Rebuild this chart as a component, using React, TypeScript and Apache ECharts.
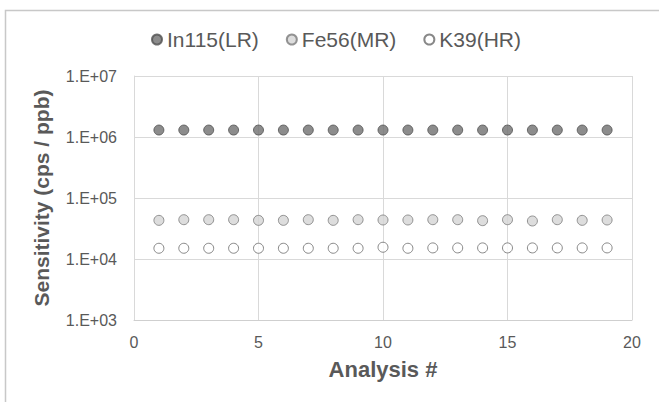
import React, { useEffect, useRef } from "react";
import * as echarts from "echarts";

const analysis = [1, 2, 3, 4, 5, 6, 7, 8, 9, 10, 11, 12, 13, 14, 15, 16, 17, 18, 19];
const in115 = [1.3e6, 1.3e6, 1.3e6, 1.3e6, 1.3e6, 1.3e6, 1.3e6, 1.3e6, 1.3e6, 1.3e6, 1.3e6, 1.3e6, 1.3e6, 1.3e6, 1.3e6, 1.3e6, 1.3e6, 1.3e6, 1.3e6];
const fe56 = [4.3e4, 4.41e4, 4.41e4, 4.41e4, 4.3e4, 4.3e4, 4.41e4, 4.3e4, 4.41e4, 4.36e4, 4.36e4, 4.41e4, 4.41e4, 4.25e4, 4.41e4, 4.2e4, 4.41e4, 4.3e4, 4.36e4];
const k39 = [1.5e4, 1.5e4, 1.5e4, 1.5e4, 1.5e4, 1.5e4, 1.5e4, 1.5e4, 1.5e4, 1.56e4, 1.5e4, 1.52e4, 1.52e4, 1.52e4, 1.52e4, 1.52e4, 1.52e4, 1.52e4, 1.52e4];
const seriesNames = ["In115(LR)", "Fe56(MR)", "K39(HR)"];

const FONT = "'Liberation Sans', Arial, sans-serif";
const TXT = "#595959";

export default function App() {
  const ref = useRef<HTMLDivElement>(null);
  useEffect(() => {
    const chart = echarts.init(ref.current!, null, { renderer: "svg" });
    const pts = (vals: number[]) => analysis.map((a, i) => [a, vals[i]]);
    const styles = [
      { color: "#6f6f6f", borderColor: "#4f4f4f", borderWidth: 1 },
      { color: "#d4d4d4", borderColor: "#7a7a7a", borderWidth: 1 },
      { color: "#ffffff", borderColor: "#6a6a6a", borderWidth: 1 },
    ];
    const datas = [in115, fe56, k39];
    chart.setOption({
      animation: false,
      textStyle: { fontFamily: FONT },
      graphic: [
        {
          type: "rect",
          shape: { x: 5.5, y: 10.5, width: 700, height: 450 },
          style: { fill: "none", stroke: "#c8c8c8", lineWidth: 1.5 },
          silent: true,
        },
      ],
      legend: {
        left: 151,
        top: 29,
        padding: 0,
        icon: "circle",
        itemWidth: 10,
        itemHeight: 10,
        itemGap: 27,
        textStyle: { fontSize: 21, color: TXT, fontFamily: FONT },
        data: seriesNames,
      },
      grid: { left: 134, right: 27, top: 76, bottom: 82 },
      xAxis: {
        type: "value",
        min: 0,
        max: 20,
        interval: 5,
        name: "Analysis #",
        nameLocation: "middle",
        nameGap: 38,
        nameTextStyle: { fontSize: 22, fontWeight: "bold", color: TXT, fontFamily: FONT },
        axisLine: { show: true, lineStyle: { color: "#cfcfcf" } },
        axisTick: { show: false },
        axisLabel: { fontSize: 16, color: TXT, margin: 14, fontFamily: FONT },
        splitLine: { show: true, lineStyle: { color: "#d9d9d9" } },
      },
      yAxis: {
        type: "log",
        logBase: 10,
        min: 1e3,
        max: 1e7,
        name: "Sensitivity (cps / ppb)",
        nameLocation: "middle",
        nameGap: 82,
        nameRotate: 90,
        nameTextStyle: { fontSize: 21, fontWeight: "bold", color: TXT, fontFamily: FONT },
        axisLine: { show: true, lineStyle: { color: "#d9d9d9" } },
        axisTick: { show: false },
        axisLabel: {
          fontSize: 16,
          color: TXT,
          margin: 17,
          fontFamily: FONT,
          formatter: (v: number) => "1.E+" + String(Math.round(Math.log10(v))).padStart(2, "0"),
        },
        splitLine: { show: true, lineStyle: { color: "#d9d9d9" } },
      },
      series: seriesNames.map((name, i) => ({
        name,
        type: "scatter",
        symbol: "circle",
        symbolSize: 10,
        itemStyle: styles[i],
        data: pts(datas[i]),
      })),
    });
    return () => chart.dispose();
  }, []);
  return (
    <div
      ref={ref}
      style={{ position: "fixed", left: 0, top: 0, width: 659, height: 402, background: "#fff" }}
    />
  );
}
